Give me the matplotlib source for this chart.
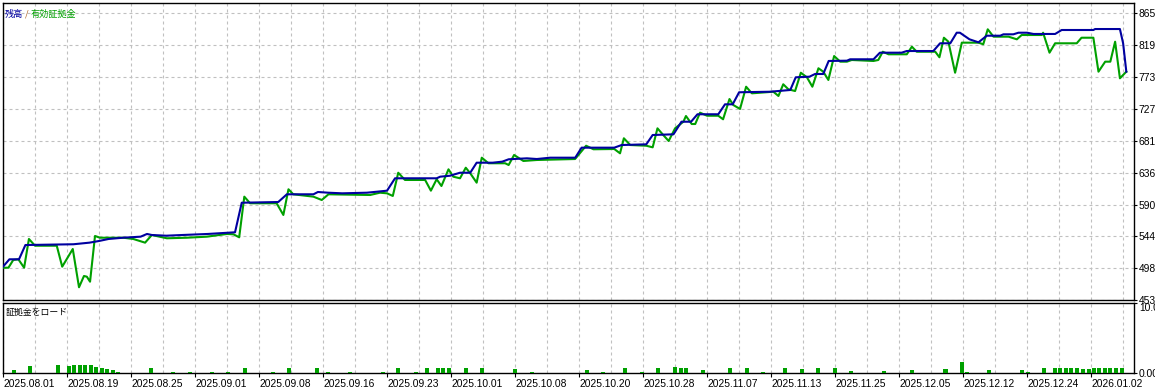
import matplotlib
matplotlib.use('Agg')
import matplotlib.pyplot as plt

# deal positions (trade count axis) and account values
balance_x = [0, 2, 5, 7, 22, 27, 30, 33, 37.5, 43, 45, 46.5, 51, 56, 64, 72.5, 74.6, 86, 88.7, 97,
             98.4, 101.6, 106, 113.7, 116.8, 120, 122.5, 135.5, 136.6, 139.7, 142.8, 146, 148, 153, 156,
             158, 163.7, 166.8, 171, 178.8, 180.8, 191, 193.3, 201, 203, 209.5, 212, 215, 217, 223.5,
             225.6, 228, 230, 239.7, 246, 247.7, 252, 253.75, 256.3, 258, 263.7, 264.7, 272, 274, 280.8,
             282.4, 290.7, 292.8, 296, 298, 299, 302, 304.8, 307.4, 311.6, 312.6, 315.7, 317.3, 320, 322,
             328.75, 330.8, 340.7, 341.25, 349, 350, 351]
balance = [5010, 5116, 5116, 5321, 5332, 5355, 5379, 5408, 5426, 5441, 5480, 5465, 5455, 5465, 5480,
           5504, 5929, 5939, 6050, 6050, 6083, 6073, 6064, 6073, 6087, 6102, 6280, 6280, 6303, 6317,
           6360, 6360, 6504, 6504, 6519, 6553, 6567, 6557, 6576, 6576, 6720, 6720, 6758, 6768, 6902,
           6912, 7093, 7093, 7200, 7200, 7343, 7343, 7516, 7524, 7549, 7731, 7740, 7779, 7779, 7966,
           7970, 7990, 7990, 8085, 8085, 8109, 8109, 8220, 8220, 8372, 8372, 8277, 8234, 8329, 8329,
           8349, 8349, 8372, 8372, 8354, 8354, 8411, 8411, 8425, 8425, 8220, 7812]

equity_x = [0, 1.7, 3.2, 4.8, 6.6, 8.1, 10, 16.8, 18.5, 21.8, 23.75, 25.3, 26.2, 27.2, 28.75, 30.3,
            37.6, 40.7, 44.4, 46.5, 51.2, 57.4, 63.7, 70, 72, 73.8, 75.4, 77.2, 85.5, 87.6, 89.2, 90.7,
            97, 99.6, 101.7, 114.7, 117.8, 120, 121.8, 123.5, 125.6, 131.9, 133.7, 135.5, 137, 139.2,
            140.7, 142.8, 144.6, 146, 148, 149.6, 151.7, 156.9, 158, 159.7, 162.6, 166.8, 178.75, 182.2,
            184.5, 191, 192.8, 194, 196, 201, 203, 204.5, 206.3, 208, 210, 212.6, 213.4, 215.2, 216.3,
            217.8, 220, 223.5, 225, 227, 228.2, 230.3, 232.2, 234, 236.6, 240.7, 242.3, 243.8, 245.4,
            247.5, 249.3, 251.2, 252.9, 254.8, 256.3, 257.9, 259.7, 261.6, 263.7, 265.2, 272, 273.5,
            274.9, 276.7, 282.4, 284, 285.5, 291.3, 292.6, 294, 295.4, 297.5, 299.6, 304.8, 306.3,
            307.7, 309.5, 314.2, 316.8, 318.3, 324.6, 325, 327, 328.75, 335.5, 337, 340.7, 342.3, 344.4,
            346, 347.5, 349, 350, 351]
equity = [4995, 4995, 5106, 5116, 4995, 5408, 5311, 5311, 5010, 5264, 4714, 4876, 4866, 4794, 5451,
          5426, 5426, 5408, 5355, 5465, 5418, 5426, 5441, 5480, 5475, 5432, 6016, 5921, 5921, 5753,
          6122, 6050, 6016, 5968, 6050, 6040, 6073, 6064, 6026, 6360, 6256, 6256, 6102, 6266, 6169,
          6409, 6303, 6280, 6432, 6352, 6217, 6576, 6496, 6496, 6471, 6615, 6529, 6543, 6557, 6748,
          6697, 6701, 6639, 6855, 6758, 6748, 6725, 6998, 6902, 6816, 6998, 7093, 7175, 7060, 7060,
          7223, 7179, 7179, 7128, 7419, 7333, 7276, 7596, 7501, 7510, 7524, 7463, 7631, 7559, 7534,
          7797, 7731, 7596, 7861, 7812, 7693, 8037, 7956, 7956, 7980, 7966, 7980, 8099, 8062, 8062,
          8171, 8099, 8099, 8019, 8300, 8243, 7797, 8229, 8229, 8206, 8421, 8315, 8315, 8277, 8339,
          8339, 8372, 8085, 8220, 8220, 8300, 8300, 7812, 7956, 7956, 8243, 7717, 7764, 7812]

# margin load (%) per deal
load_x = [3.4, 8.3, 17.1, 20.6, 22.2, 24.1, 25.7, 27.4, 29.1, 30.8, 32.5, 34.3, 35.9, 46.2, 53.1,
          58.4, 65.2, 70.3, 75.6, 84.4, 89.4, 98.1, 101.6, 108.4, 118.7, 123.4, 129.1, 132.5, 135.9,
          137.5, 139.3, 144.7, 149.7, 160, 165.3, 182.5, 187.5, 194.4, 199.6, 204.7, 209.9, 211.9,
          213.4, 218.7, 227.2, 232.5, 237.5, 244.3, 249.6, 254.7, 260, 264.9, 275.3, 284.1, 294.5,
          299.8, 301.3, 308, 318.4, 320.3, 325.2, 328.7, 330.3, 332.1, 333.8, 335.6, 337.4, 339.2,
          340.9, 342.6, 344.4, 346, 347.8, 349.5]
load_pct = [0.38, 0.94, 1.08, 0.94, 1.08, 1.08, 1.08, 1.08, 0.85, 0.70, 0.52, 0.38, 0.14, 0.66, 0.14,
            0.14, 0.14, 0.14, 0.75, 0.14, 0.75, 0.66, 0.14, 0.14, 0.14, 0.75, 0.14, 0.75, 0.75, 0.75,
            0.75, 0.75, 0.75, 0.52, 0.14, 0.38, 0.14, 0.70, 0.14, 0.66, 0.80, 0.66, 0.66, 0.38, 0.66,
            0.66, 0.14, 0.70, 0.56, 0.70, 0.70, 0.24, 0.24, 0.38, 0.52, 1.55, 0.14, 0.46, 0.38, 0.14,
            0.66, 0.66, 0.66, 0.66, 0.66, 0.66, 0.52, 0.52, 0.75, 0.66, 0.66, 0.66, 0.66, 0.66]

date_labels = ['2025.08.01', '2025.08.19', '2025.08.25', '2025.09.01', '2025.09.08', '2025.09.16',
               '2025.09.23', '2025.10.01', '2025.10.08', '2025.10.20', '2025.10.28', '2025.11.07',
               '2025.11.13', '2025.11.25', '2025.12.05', '2025.12.12', '2025.12.24', '2026.01.02']
date_ticks = list(range(0, 341, 20))
value_ticks = [4531, 4987, 5445, 5903, 6361, 6819, 7277, 7735, 8193, 8651]
value_labels = [str(v) for v in value_ticks]

BLUE = '#0000a0'
GREEN = '#00a000'
GRID = '#c0c0c0'
CJK = ['Noto Sans CJK JP', 'DejaVu Sans']
plt.rcParams['font.family'] = ['Liberation Sans', 'DejaVu Sans']

W, H = 1155, 389
fig = plt.figure(figsize=(W / 100, H / 100), dpi=100)
ax = fig.add_axes([3 / W, (H - 300) / H, 1131 / W, 297 / H])
ax2 = fig.add_axes([3 / W, (H - 373) / H, 1131 / W, 70 / H])

for a in (ax, ax2):
    a.set_xlim(0, 353.4)
    a.set_xticks(range(10, 354, 10), minor=True)
    a.grid(True, which='minor', axis='x', color=GRID, lw=0.8, ls=(0, (2.7, 2.7)))
    a.grid(True, which='major', axis='x', color=GRID, lw=0.8, ls=(0, (2.7, 2.7)))
    a.tick_params(axis='x', which='minor', length=0)
    for s in a.spines.values():
        s.set_color('black')
        s.set_linewidth(1.0)
    a.yaxis.tick_right()
    a.tick_params(axis='y', direction='out', length=2.5, width=0.8, pad=1, labelsize=7.4)

# main panel
ax.plot(equity_x, equity, color=GREEN, lw=1.5, zorder=3)
ax.plot(balance_x, balance, color=BLUE, lw=1.5, zorder=4)
ax.set_ylim(4531, 8799)
ax.set_yticks(value_ticks)
ax.set_yticklabels(value_labels)
ax.grid(True, axis='y', color=GRID, lw=0.8, ls=(0, (2.7, 2.7)))
ax.set_xticks(date_ticks)
ax.tick_params(axis='x', length=0, labelbottom=False)
ax.set_axisbelow(True)

t1 = ax.text(2 / 1131, 1 - 11 / 297, '残高', transform=ax.transAxes, family=CJK,
             fontsize=6.6, color=BLUE, va='center', ha='left')
t2 = ax.annotate(' / ', xy=(1, 0), xycoords=t1, va='bottom', ha='left',
                 family=CJK, fontsize=6.6, color='#b06020')
ax.annotate('有効証拠金', xy=(1, 0), xycoords=t2, va='bottom', ha='left',
            family=CJK, fontsize=6.6, color=GREEN)

# margin load panel
ax2.bar(load_x, load_pct, width=1.25, color=GREEN, zorder=3)
ax2.set_ylim(0, 10)
ax2.set_yticks([0, 10])
ax2.set_yticklabels(['0.00%', '10.00%'])
ax2.get_yticklabels()[1].set_va('top')
ax2.set_xticks(date_ticks)
ax2.set_xticklabels(date_labels)
ax2.tick_params(axis='x', which='major', direction='out', length=3, width=0.8, pad=1, labelsize=7.4)
for lab in ax2.get_xticklabels():
    lab.set_ha('left')
ax2.set_axisbelow(True)
ax2.text(3 / 1131, 1 - 9 / 70, '証拠金をロード', transform=ax2.transAxes, family=CJK,
         fontsize=6.4, color='black', va='center', ha='left')

fig.savefig('out.png', dpi=100)
